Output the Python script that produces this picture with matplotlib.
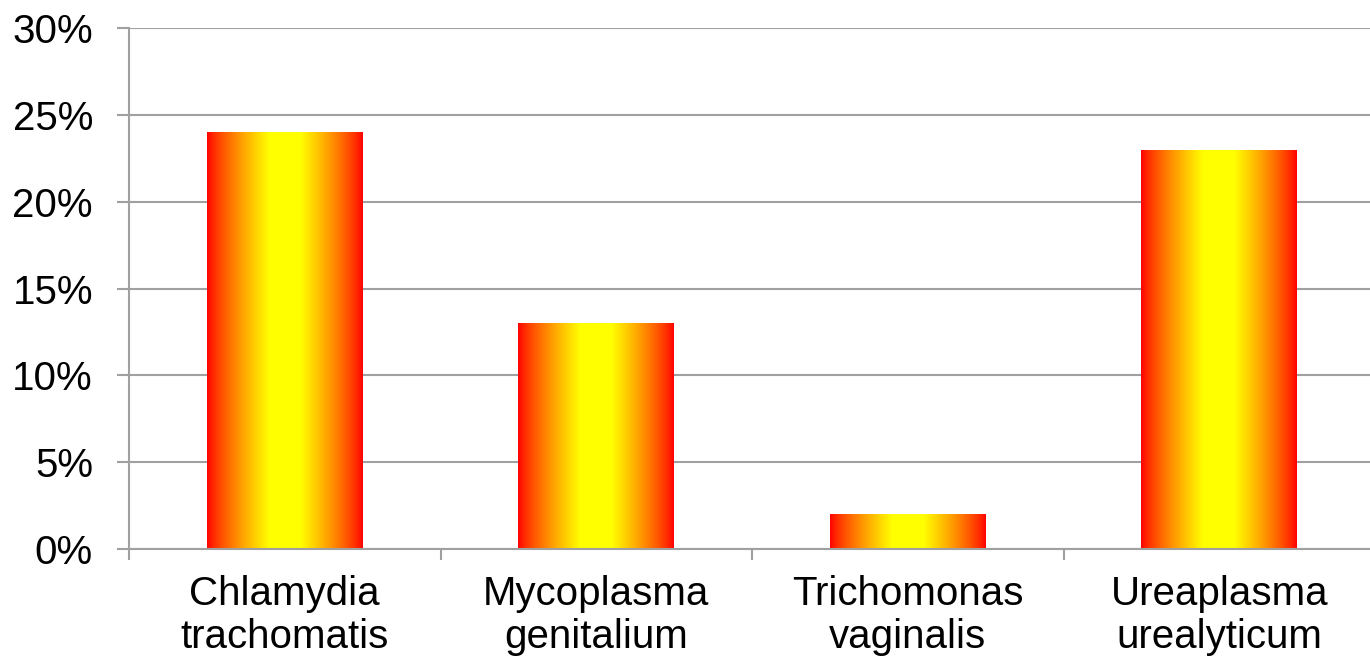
import numpy as np
import matplotlib.pyplot as plt

plt.rcParams['font.family'] = ['Liberation Sans', 'DejaVu Sans']

categories = ['Chlamydia\ntrachomatis', 'Mycoplasma\ngenitalium',
              'Trichomonas\nvaginalis', 'Ureaplasma\nurealyticum']
values = [0.24, 0.13, 0.02, 0.23]
yticks = [0, 0.05, 0.10, 0.15, 0.20, 0.25, 0.30]
ytick_labels = ['0%', '5%', '10%', '15%', '20%', '25%', '30%']

grey = '#a0a0a0'

fig = plt.figure(figsize=(13.7, 6.56), dpi=100)
ax = fig.add_axes([129 / 1370, 1 - 549 / 656, 1246 / 1370, 521 / 656])

x = np.arange(len(categories)) + 0.5
bars = ax.bar(x, values, width=0.5, color='none', edgecolor='none', zorder=3)

# red - yellow - red horizontal gradient in each bar, yellow band in the middle
t = np.linspace(0, 1, 256)
g = np.clip((0.5 - np.abs(t - 0.5)) / 0.4, 0, 1) ** 0.8
grad = np.stack([np.ones_like(t), g, np.zeros_like(t)], axis=-1)[None, :, :]
for b in bars:
    x0, y0 = b.get_x(), b.get_y()
    w, h = b.get_width(), b.get_height()
    im = ax.imshow(grad, aspect='auto', extent=[x0, x0 + w, y0, y0 + h],
                   zorder=3, interpolation='bilinear')
    im.set_clip_path(b)

ax.set_xlim(0, len(categories))
ax.set_ylim(0, 0.30)

ax.set_yticks(yticks)
ax.set_yticklabels(ytick_labels)
ax.yaxis.grid(True, color=grey, linewidth=1.5, zorder=0)
ax.tick_params(axis='y', length=9, width=1.5, color=grey, pad=17, labelsize=29)

ax.set_xticks(x)
ax.set_xticklabels(categories, linespacing=1.15)
ax.set_xticks(np.arange(len(categories) + 1), minor=True)
ax.tick_params(axis='x', which='major', length=0, pad=19, labelsize=29)
ax.tick_params(axis='x', which='minor', length=8, width=1.5, color=grey)

for side in ['top', 'right']:
    ax.spines[side].set_visible(False)
for side in ['left', 'bottom']:
    ax.spines[side].set_color(grey)
    ax.spines[side].set_linewidth(1.5)
    ax.spines[side].set_zorder(4)

fig.savefig('out.png', dpi=100)
